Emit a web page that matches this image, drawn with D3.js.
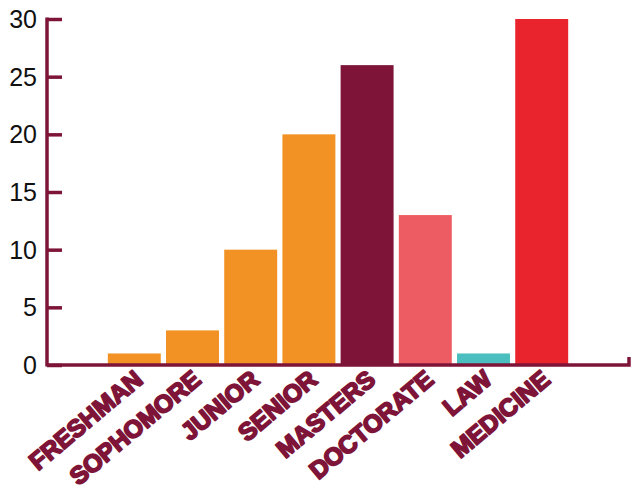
<!DOCTYPE html>
<html>
<head>
<meta charset="utf-8">
<script src="https://cdn.jsdelivr.net/npm/d3@7"></script>
<style>
  html, body { margin: 0; padding: 0; background: #fff; }
  svg { display: block; }
</style>
</head>
<body>
<svg id="chart" width="635" height="491"></svg>
<script>
const categories = ["FRESHMAN", "SOPHOMORE", "JUNIOR", "SENIOR", "MASTERS", "DOCTORATE", "LAW", "MEDICINE"];
const values = [1, 3, 10, 20, 26, 13, 1, 30];
const barColors = ["#F39224", "#F39224", "#F39224", "#F39224", "#7E1538", "#EE5C63", "#4BBFBF", "#E9242C"];
const yTicks = [0, 5, 10, 15, 20, 25, 30];

const axisColor = "#7E1538";
const svg = d3.select("#chart");

const x = d3.scaleBand()
  .domain(categories)
  .range([47, 629])
  .paddingInner(0.09)
  .paddingOuter(1.045);

const y = d3.scaleLinear().domain([0, 30]).range([365, 19]);

// bars
svg.append("g").selectAll("rect")
  .data(categories)
  .join("rect")
  .attr("x", d => x(d))
  .attr("width", x.bandwidth())
  .attr("y", (d, i) => y(values[i]))
  .attr("height", (d, i) => y(0) - y(values[i]))
  .attr("fill", (d, i) => barColors[i]);

// y axis
const yAxis = d3.axisRight(y).tickValues(yTicks).tickSize(15).tickFormat("");
const gy = svg.append("g").attr("transform", "translate(47,0)").call(yAxis);
gy.select(".domain").remove();
gy.selectAll(".tick line").attr("stroke", axisColor).attr("stroke-width", 3.5);
svg.append("line")
  .attr("x1", 47).attr("x2", 47)
  .attr("y1", y(30) - 1.5).attr("y2", y(0) + 1.5)
  .attr("stroke", axisColor).attr("stroke-width", 3.5);

// y tick labels
svg.append("g").selectAll("text")
  .data(yTicks)
  .join("text")
  .attr("x", 37)
  .attr("y", d => y(d))
  .attr("dy", "0.36em")
  .attr("text-anchor", "end")
  .attr("font-family", "'Liberation Sans', Arial, sans-serif")
  .attr("font-size", 25)
  .attr("fill", "#111")
  .text(d => d);

// x axis baseline
const xr = x.range();
svg.append("path")
  .attr("d", `M${xr[0]},${y(0)}H${xr[1]}V${y(0) - 8}`)
  .attr("fill", "none")
  .attr("stroke", axisColor)
  .attr("stroke-width", 3.5);

// x labels
svg.append("g").selectAll("text")
  .data(categories)
  .join("text")
  .attr("transform", d => `translate(${x(d) + x.bandwidth() / 2 + 10},382) rotate(-40)`)
  .attr("text-anchor", "end")
  .attr("font-family", "'Liberation Sans', Arial, sans-serif")
  .attr("font-weight", 700)
  .attr("font-size", 24.5)
  .attr("stroke", axisColor)
  .attr("stroke-width", 1.8)
  .attr("stroke-linejoin", "round")
  .attr("fill", axisColor)
  .text(d => d);
</script>
</body>
</html>
